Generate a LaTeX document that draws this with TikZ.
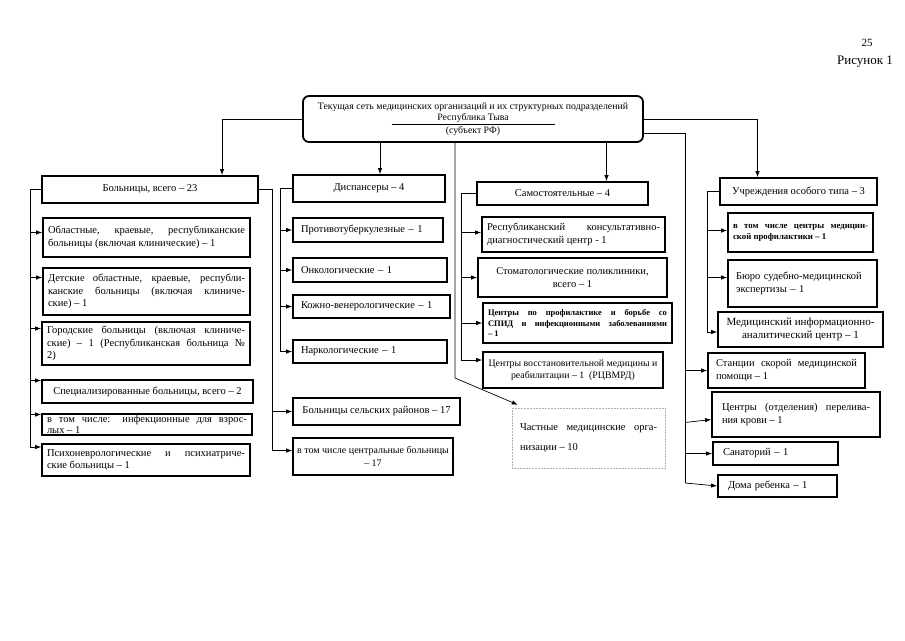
\documentclass[tikz,border=0pt]{standalone}
\usepackage{fontspec}
\setmainfont{Liberation Serif}
\usetikzlibrary{arrows.meta}

\begin{document}
\begin{tikzpicture}[x=1pt,y=-1pt,
  box/.style={draw, line width=1.8pt, inner xsep=5pt, inner ysep=1pt, font=\fontsize{10.5}{12.5}\selectfont},
  cbox/.style={box, align=center},
  jbox/.style={box, align=justify, text width=#1},
  lbox/.style={box, inner xsep=8pt, align=left, text width=#1},
  conn/.style={line width=0.7pt},
  arr/.style={conn, -{Latex[length=6pt,width=4.5pt]}}]
  \useasboundingbox (0,0) rectangle (905,640);
  % Номер страницы
  \node[font=\fontsize{11}{13}\selectfont] (pnum) at (867,43) {25};
  \node[font=\fontsize{13}{15}\selectfont] (fig) at (865,62) {Рисунок 1};
  % Заголовок
  \node[draw, line width=1.8pt, rounded corners=6pt, minimum width=340pt, minimum height=46pt,
        align=center, font=\fontsize{9.8}{11.5}\selectfont] (top) at (473,119)
    {Текущая сеть медицинских организаций и их структурных подразделений\\
     \underline{\makebox[163pt]{Республика Тыва}}\\[1pt](субъект РФ)};

  % Больницы
  \node[cbox, minimum width=216pt, minimum height=27pt] (bol) at (150,189.5) {Больницы, всего – 23};
  \node[jbox=197pt, minimum height=39pt] (obl) at (146.5,237.5)
    {Областные, краевые, республиканские\linebreak больницы (включая клинические) – 1};
  \node[jbox=197pt, minimum height=47pt] (det) at (146.5,291.5)
    {Детские областные, краевые, республи-\linebreak канские больницы (включая клиниче-\linebreak ские) – 1};
  \node[jbox=198pt, minimum height=43pt] (gor) at (146,343.5)
    {Городские больницы (включая клиниче-\linebreak ские) – 1 (Республиканская больница №\linebreak 2)};
  \node[cbox, minimum width=211pt, minimum height=23pt] (spec) at (147.5,391.5) {Специализированные больницы, всего – 2};
  \node[jbox=200pt, minimum height=21pt, inner ysep=0pt, font=\fontsize{10.5}{10.5}\selectfont] (vtom) at (147,424.5)
    {в том числе: инфекционные для взрос-\linebreak лых – 1};
  \node[jbox=198pt, minimum height=32pt] (psi) at (146,460)
    {Психоневрологические и психиатриче-\linebreak ские больницы – 1};

  % Диспансеры
  \node[cbox, minimum width=152pt, minimum height=27pt] (disp) at (369,188.5) {Диспансеры – 4};
  \node[lbox=134pt, minimum height=24pt] (ptub) at (368,230) {Противотуберкулезные – 1};
  \node[lbox=138pt, minimum height=24pt] (onko) at (370,270) {Онкологические – 1};
  \node[lbox=141pt, minimum height=23pt] (kozh) at (371.5,306.5) {Кожно-венерологические – 1};
  \node[lbox=138pt, minimum height=23pt] (nark) at (370,351.5) {Наркологические – 1};
  \node[cbox, minimum width=167pt, minimum height=27pt] (selr) at (376.5,411.5) {Больницы сельских районов – 17};
  \node[cbox, inner xsep=2pt, minimum width=160pt, minimum height=37pt, font=\fontsize{10}{12.5}\selectfont] (crb) at (373,456.5)
    {в том числе центральные больницы\\– 17};

  % Самостоятельные
  \node[cbox, minimum width=171pt, minimum height=23pt] (sam) at (562.5,193.5) {Самостоятельные – 4};
  \node[jbox=173pt, minimum height=35pt] (rkdc) at (573.5,234.5)
    {Республиканский консультативно-\linebreak диагностический центр - 1};
  \node[cbox, minimum width=189pt, minimum height=39pt] (stom) at (572.5,277.5) {Стоматологические поликлиники,\\всего – 1};
  \node[jbox=179pt, minimum height=40pt, font=\fontsize{8.5}{10.5}\selectfont\bfseries] (spid) at (577.5,323)
    {Центры по профилактике и борьбе со\linebreak СПИД и инфекционными заболеваниями\linebreak – 1};
  \node[cbox, minimum width=180pt, minimum height=36pt, font=\fontsize{9.8}{12}\selectfont] (vost) at (573,370)
    {Центры восстановительной медицины и\\реабилитации – 1 \ (РЦВМРД)};
  \node[draw=gray!60, densely dotted, line width=0.5pt, inner xsep=8pt, align=justify, text width=137pt,
        minimum height=60pt, font=\fontsize{10.5}{20}\selectfont] (chast) at (588.5,438)
    {Частные медицинские орга-\linebreak низации – 10};

  % Учреждения особого типа
  \node[cbox, minimum width=157pt, minimum height=27pt] (osob) at (798.5,191.5) {Учреждения особого типа – 3};
  \node[jbox=135pt, minimum height=39pt, font=\fontsize{8.8}{11}\selectfont\bfseries] (cmp) at (800.5,232.5)
    {в том числе центры медицин-\linebreak ской профилактики – 1};
  \node[lbox=133pt, minimum height=47pt] (bsme) at (802.5,283.5) {Бюро судебно-медицинской\\экспертизы – 1};
  \node[cbox, minimum width=165pt, minimum height=35pt, font=\fontsize{11}{13}\selectfont] (miac) at (800.5,329.5)
    {Медицинский информационно-\\аналитический центр – 1};
  \node[jbox=141pt, inner xsep=8pt, minimum height=35pt] (smp) at (786.5,370.5)
    {Станции скорой медицинской\linebreak помощи – 1};
  \node[jbox=148pt, inner xsep=10pt, minimum height=45pt] (pk) at (796,414.5)
    {Центры (отделения) перелива-\linebreak ния крови – 1};
  \node[lbox=105pt, inner xsep=10pt, minimum height=23pt] (san) at (775.5,453.5) {Санаторий – 1};
  \node[lbox=99pt, inner xsep=10pt, minimum height=22pt] (dr) at (777.5,486) {Дома ребенка – 1};

  % Связи от заголовка
  \draw[arr] (top.west) -| ([xshift=72pt]bol.north);
  \draw[arr] ([xshift=11pt]disp.north |- top.south) -- ([xshift=11pt]disp.north);
  \draw[arr] ([xshift=44pt]sam.north |- top.south) -- ([xshift=44pt]sam.north);
  \draw[arr] (top.east) -| ([xshift=-41pt]osob.north);
  \coordinate (rb) at (685,483);
  \draw[conn] ([yshift=-14pt]top.east) -| (rb);
  \coordinate (pb) at (455,378);
  \draw[arr] (top.south -| pb) -- (pb) -- ([xshift=6pt,yshift=3pt]chast.north west);

  % Больницы
  \coordinate (lb) at (30,447);
  \draw[conn] (bol.west) -| (lb);
  \foreach \n/\d in {obl/5,det/14,gor/15,spec/11,vtom/10,psi/13}
    \draw[arr] ([yshift=\d pt]\n.west -| lb) -- ([yshift=\d pt]\n.west);
  \coordinate (mb) at (272,450);
  \draw[conn] (bol.east) -| (mb);
  \draw[arr] (selr.west -| mb) -- (selr.west);
  \draw[arr] ([yshift=6pt]crb.west -| mb) -- ([yshift=6pt]crb.west);

  % Диспансеры
  \coordinate (db) at (280,351.5);
  \draw[conn] (disp.west) -| (db);
  \foreach \n in {ptub,onko,kozh}
    \draw[arr] (\n.west -| db) -- (\n.west);
  \draw[arr] (db) -- (nark.west);

  % Самостоятельные
  \coordinate (sb) at (461,360);
  \draw[conn] (sam.west) -| (sb);
  \foreach \n/\d in {rkdc/2,stom/0,spid/0}
    \draw[arr] ([yshift=\d pt]\n.west -| sb) -- ([yshift=\d pt]\n.west);
  \draw[arr] (sb) -- (sb -| vost.west);

  % Учреждения особого типа
  \coordinate (ob) at (707,332);
  \draw[conn] (osob.west) -| (ob);
  \foreach \n/\d in {cmp/2,bsme/6}
    \draw[arr] ([yshift=\d pt]\n.west -| ob) -- ([yshift=\d pt]\n.west);
  \draw[arr] (ob) -- (ob -| miac.west);

  % Прочие учреждения
  \draw[arr] (smp.west -| rb) -- (smp.west);
  \draw[arr] ([yshift=-8pt]pk.west -| rb) -- ([yshift=-5pt]pk.west);
  \draw[arr] (san.west -| rb) -- (san.west);
  \draw[arr] (rb) -- (dr.west);
\end{tikzpicture}
\end{document}
